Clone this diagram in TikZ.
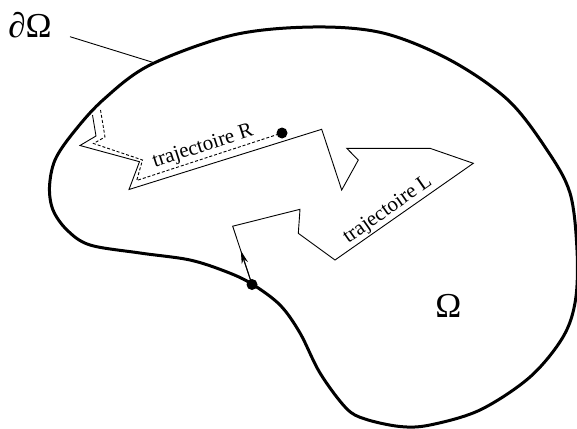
\documentclass[tikz,border=0pt]{standalone}
\usepackage{fontspec}
\setmainfont{Liberation Serif}
\usetikzlibrary{arrows.meta,calc}
\begin{document}
\begin{tikzpicture}[x=1pt,y=-1pt,
  traj/.style={line width=0.9pt,line join=miter},
  dashtraj/.style={line width=0.9pt,dash pattern=on 3pt off 2pt},
  bound/.style={line width=3pt},
  lbl/.style={font=\fontsize{21}{24}\selectfont,inner sep=0pt},
  biglbl/.style={font=\fontsize{35}{40}\selectfont,inner sep=0pt},
  dotmark/.style={circle,fill=black,inner sep=0pt,minimum size=11pt}]
\useasboundingbox (0,0) rectangle (577,428);
% boundary
\draw[bound] plot[smooth cycle,tension=0.55] coordinates {
 (313,27) (383,33) (450,60) (508,100) (547,150) (570,193) (577,250) (575.5,300)
 (563,337) (530,377) (480,410) (430,425) (400,426.5) (365,419) (346,408)
 (320,373) (300,333) (280,305) (252,284) (227,272) (190,260) (140,253)
 (90,245) (67,230) (53,210) (49.5,187) (55,160) (73,133) (103,100) (150,65) (233,35)};
% trajectory R solid
\coordinate (A) at (92.5,115);
\coordinate (B) at (96,136);
\coordinate (C) at (80,145.5);
\coordinate (D) at (139.5,161.7);
\coordinate (E) at (129,189.5);
\coordinate (F) at (321.7,129.3);
\coordinate (G) at (341.7,190);
\coordinate (H) at (358.3,160);
\coordinate (I) at (346.7,148.3);
\coordinate (J) at (430,148.3);
\coordinate (K) at (473.3,163.3);
\coordinate (L) at (335,260);
\coordinate (M) at (298.3,233.3);
\coordinate (N) at (300,209.3);
\coordinate (O) at (232.7,226.2);
\node[dotmark] (P) at (252,284.5) {};
\node[dotmark] (Q) at (282,133) {};
\draw[traj] (A) -- (B) -- (C) -- (D) -- (E) -- (F) -- (G) -- (H) -- (I) -- (J) -- (K) -- (L) -- (M) -- (N) -- (O) -- (P.center);
\draw[-{Stealth[length=13pt,width=6.5pt]},line width=0.9pt] (P.center) -- ($(P.center)!0.58!(O)$);
% dashed
\coordinate (A2) at (100.5,110);
\coordinate (B2) at (105,137);
\coordinate (C2) at (93.5,143.5);
\coordinate (D2) at (142.5,160);
\coordinate (E2) at (136.7,180.5);
\draw[dashtraj] (A2) -- (B2) -- (C2) -- (D2) -- (E2) -- (Q.center);
% labels
\node[lbl,rotate=17.8] (tR) at (203,147) {trajectoire R};
\node[lbl,rotate=35] (tL) at (388,210) {trajectoire L};
\node[biglbl] (om) at (448.3,306) {Ω};
\node[biglbl] (dom) at (30,25) {∂Ω};
\coordinate (lead) at (153.3,62.5);
\draw[line width=0.9pt] (70,36.7) -- (lead);
\end{tikzpicture}
\end{document}
